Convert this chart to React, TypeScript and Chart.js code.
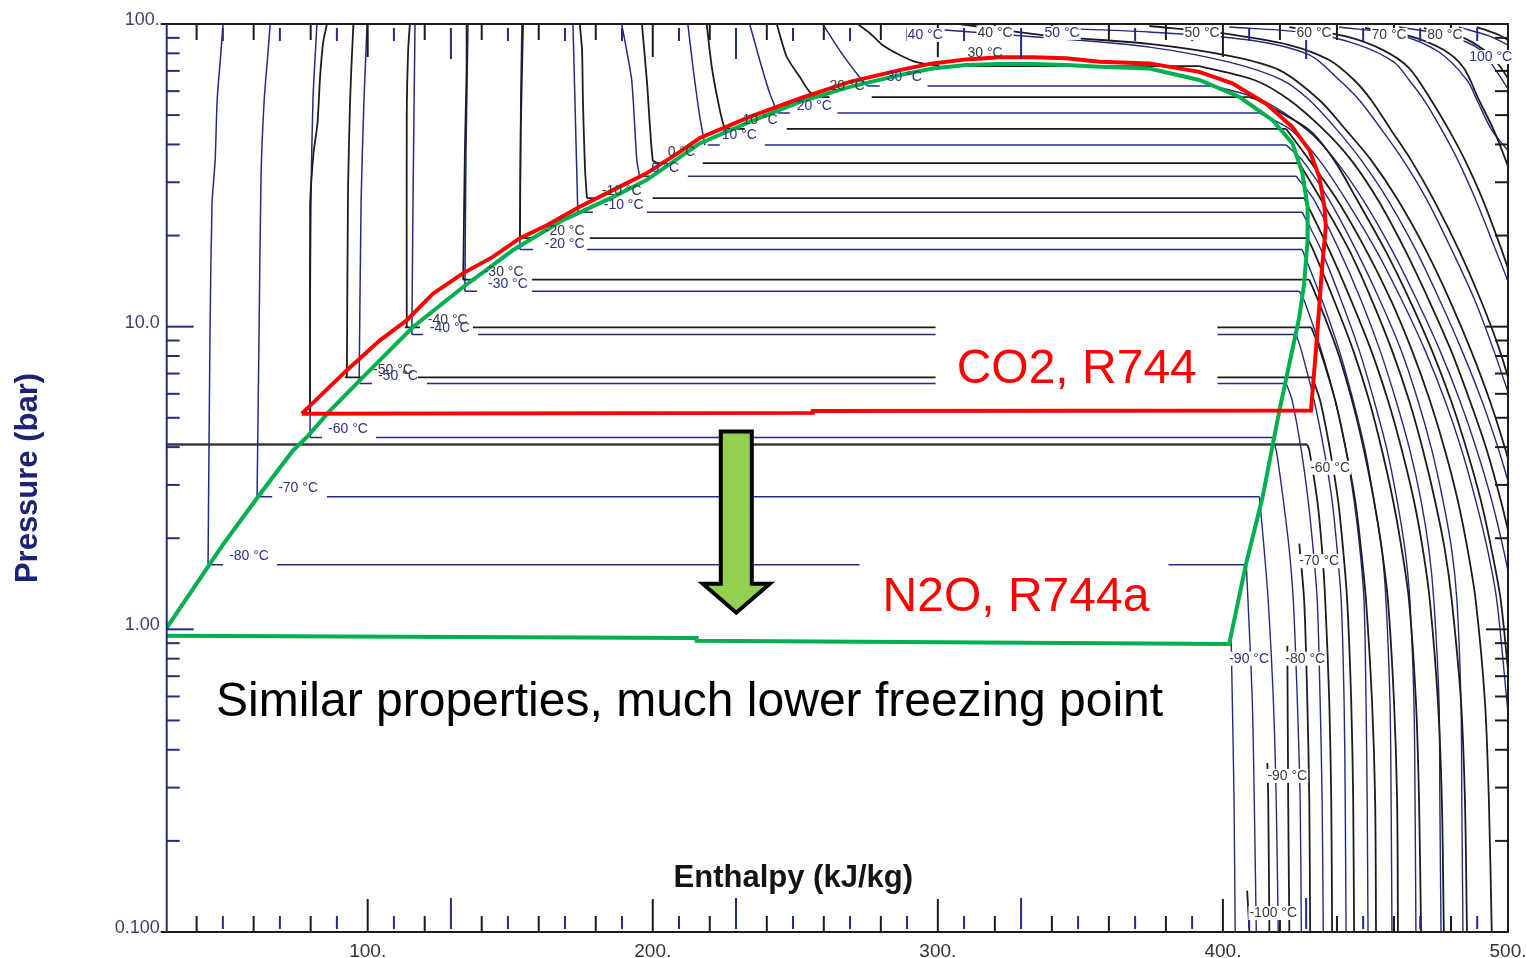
import React, { useEffect, useRef } from 'react';
import { Chart, registerables } from 'chart.js';

Chart.register(...registerables);

type Pt = [number, number];
type Seg = [number, number];

// ---------- axes ----------
const xTickValues = [100, 200, 300, 400, 500];
const xTickLabels = ['100.', '200.', '300.', '400.', '500.'];
const yTickValues = [0.1, 1, 10, 100];
const yTickLabels = ['0.100', '1.00', '10.0', '100.'];
const yMinorTicks = [0.2, 0.3, 0.4, 0.5, 0.6, 0.7, 0.8, 0.9, 2, 3, 4, 5, 6, 7, 8, 9, 20, 30, 40, 50, 60, 70, 80, 90];
const yMajorTicks = [1, 10];
const blackXTicks = [40, 60, 80, 100, 120, 140, 160, 180, 200, 220, 240, 260, 280, 300, 320, 340, 360, 380, 400, 420, 440, 460, 480];
const blackXTall = [100, 200, 300, 400];
const blueXTicks = [49.2, 69.2, 89.2, 109.2, 129.2, 149.2, 169.2, 189.2, 209.2, 229.2, 249.2, 269.2, 289.2, 309.2, 329.2, 349.2, 369.2, 389.2, 409.2, 429.2, 449.2, 469.2, 489.2];
const blueXTall = [129.2, 229.2, 329.2, 429.2];

// ---------- hand-drawn outlines (h kJ/kg, P bar) ----------
const co2Outline: Pt[] = [
  [76.9, 5.16], [92.6, 7.17], [104.3, 9.01], [113.7, 10.5], [122.9, 12.85], [133.4, 15.0], [143.9, 17.0], [153.4, 19.6],
  [162.7, 21.6], [174.4, 24.9], [186.0, 28.25], [197.8, 32.1], [209.5, 37.8], [216.5, 42.0], [234.0, 49.3], [251.6, 56.8],
  [269.1, 64.4], [286.6, 70.4], [298.1, 74.1], [310.0, 76.4], [321.6, 77.6], [333.2, 77.6], [345.0, 77.0], [356.7, 75.0],
  [374.2, 74.1], [391.7, 69.5], [403.3, 63.7], [415.1, 54.6], [424.3, 45.7], [430.3, 38.3], [433.8, 31.3], [435.6, 24.9],
  [436.1, 21.35], [434.8, 15.75], [433.1, 9.5], [430.9, 5.28], [256.1, 5.26], [256.1, 5.19], [76.9, 5.16],
];
const n2oOutline: Pt[] = [
  [27.6, 0.952], [49.4, 1.914], [62.25, 2.8], [73.8, 3.9], [78.6, 4.31], [86.8, 5.28], [98.35, 6.81], [115.9, 9.97],
  [133.4, 13.5], [150.9, 17.88], [168.5, 22.5], [186.0, 26.8], [197.8, 30.5], [216.5, 40.3], [234.0, 47.5], [251.6, 55.3],
  [269.1, 62.0], [286.6, 67.8], [298.1, 71.3], [310.0, 73.2], [321.6, 73.7], [333.2, 73.7], [345.0, 73.2], [356.7, 72.2],
  [374.2, 71.3], [391.7, 65.3], [405.7, 57.5], [417.4, 48.1], [424.4, 40.3], [427.9, 32.1], [429.7, 24.9], [429.7, 19.3],
  [428.5, 13.9], [426.8, 10.76], [419.8, 5.28], [413.9, 2.73], [408.1, 1.644], [402.2, 0.894], [215.4, 0.917], [215.4, 0.936],
  [27.6, 0.952],
];

// ---------- CO2 (black) isotherms ----------
const co2SatPressures = [6.8, 9.95, 14.3, 19.6, 26.6, 34.7, 45.0, 57.3, 72.6];
const co2SatSegments: Seg[][] = [
  [[92.0, 98.0], [117.6, 299.2], [398.1, 431.4]],
  [[113.1, 118.3], [136.9, 299.2], [398.1, 431.0]],
  [[133.4, 138.0], [157.6, 430.3]],
  [[152.7, 158.0], [177.9, 429.6]],
  [[176.9, 180.4], [200.0, 428.5]],
  [[200.7, 204.9], [217.5, 426.8]],
  [[228.8, 232.3], [247.0, 422.2]],
  [[259.2, 262.0], [276.8, 409.3]],
  [[302.4, 391.7]],
];
const co2SublimationP = 4.08;
const co2SublimationSeg: Seg = [29.5, 429.6];

const co2Liquid: Pt[][] = [
  [[79.8, 5.19], [79.8, 24.8], [81.0, 37.4], [82.4, 47.0], [83.3, 66.8], [84.4, 87.2], [85.7, 100]],
  [[92.7, 6.8], [93.1, 28.3], [93.8, 54.8], [94.4, 76.0], [95.0, 100]],
  [[113.7, 9.95], [113.7, 49.3], [114.2, 82.0], [114.8, 100]],
  [[133.5, 14.3], [134.1, 38.3], [134.7, 70.4], [134.7, 100]],
  [[153.4, 19.6], [153.7, 44.6], [154.5, 100]],
  [[176.9, 26.6], [176.2, 33.7], [175.5, 56.1], [175.2, 82.0], [174.4, 100]],
  [[201.8, 34.7], [200.0, 35.5], [198.0, 63.8], [196.2, 100]],
  [[228.8, 45.0], [225.2, 45.6], [222.8, 56.1], [220.7, 72.1], [218.9, 100]],
  [[259.2, 57.3], [255.1, 59.6], [251.6, 66.8], [247.0, 77.8], [243.5, 100]],
  [[300.6, 72.6], [292.5, 74.8], [286.6, 79.0], [280.6, 85.2], [276.1, 93.4], [271.9, 100]],
];

const co2Vapor: Pt[][] = [
  [[408.5, 0.137], [409.3, 0.1]],
  [[415.6, 0.362], [415.9, 0.271], [416.3, 0.1]],
  [[422.6, 0.882], [422.9, 0.271], [423.3, 0.1]],
  [[426.8, 1.92], [428.5, 1.24], [429.6, 0.58], [430.3, 0.271], [430.6, 0.1]],
  [[429.6, 4.08], [430.3, 3.9], [433.1, 2.66], [434.8, 1.82], [435.9, 1.24], [437.3, 0.58], [438.0, 0.271], [438.3, 0.1]],
  [[431.3, 6.8], [434.1, 5.7], [437.6, 3.9], [440.4, 2.66], [442.2, 1.82], [443.6, 1.24], [445.0, 0.58], [445.7, 0.271], [446.0, 0.1]],
  [[431.0, 9.95], [434.1, 8.35], [439.4, 5.7], [443.2, 3.9], [446.4, 2.66], [448.5, 1.82], [450.2, 1.24], [452.3, 0.58], [453.4, 0.271], [453.7, 0.1]],
  [[430.3, 14.3], [433.4, 12.2], [440.1, 8.35], [445.3, 5.7], [449.5, 3.9], [453.0, 2.66], [455.8, 1.82], [457.9, 1.24], [460.0, 0.58], [461.1, 0.271], [461.4, 0.1]],
  [[429.6, 19.6], [431.7, 17.9], [439.0, 12.2], [445.7, 8.35], [451.3, 5.7], [455.8, 3.9], [459.7, 2.66], [462.8, 1.82], [465.3, 1.24], [467.7, 0.58], [468.8, 0.271], [469.5, 0.1]],
  [[428.5, 26.6], [437.3, 17.9], [445.0, 12.2], [452.0, 8.35], [457.9, 5.7], [462.8, 3.9], [467.0, 2.66], [470.2, 1.82], [472.6, 1.24], [475.4, 0.58], [476.8, 0.271], [477.5, 0.1]],
  [[426.8, 34.7], [434.5, 26.2], [444.3, 17.9], [452.3, 12.2], [459.3, 8.35], [465.3, 5.7], [470.2, 3.9], [474.4, 2.66], [477.9, 1.82], [480.3, 1.24], [483.5, 0.58], [484.9, 0.271], [485.6, 0.1]],
  [[422.2, 45.0], [430.3, 35.5], [440.1, 26.2], [450.2, 17.9], [459.0, 12.2], [466.3, 8.35], [472.6, 5.7], [477.9, 3.9], [482.4, 2.66], [485.9, 1.82], [488.7, 1.24], [491.9, 0.58], [493.3, 0.271], [494.3, 0.1]],
  [[409.3, 57.3], [412.0, 56.1], [430.3, 44.6], [439.0, 35.5], [447.1, 26.2], [456.9, 17.9], [465.6, 12.2], [473.3, 8.35], [480.0, 5.7], [485.6, 3.9], [490.5, 2.66], [494.3, 1.82], [497.5, 1.24], [501.0, 0.58]],
  [[391.7, 72.6], [411.0, 65.3], [423.3, 56.1], [435.5, 44.6], [445.0, 35.5], [454.4, 26.2], [463.9, 17.9], [472.3, 12.2], [480.0, 8.35], [486.6, 5.7], [492.6, 3.9], [497.5, 2.66], [501.7, 1.82]],
  [[307.6, 100], [339.2, 91.3], [374.2, 85.9], [402.2, 78.4], [419.8, 70.4], [433.8, 56.1], [443.2, 44.6], [452.0, 35.5], [461.4, 26.2], [471.2, 17.9], [479.6, 12.2], [487.0, 8.35], [493.6, 5.7], [499.2, 3.9], [502.1, 3.1]],
  [[374.2, 98.5], [398.8, 93.4], [423.3, 85.2], [437.3, 76.0], [446.0, 65.3], [452.0, 56.1], [459.0, 44.6], [466.0, 35.5], [474.0, 26.2], [482.8, 17.9], [490.5, 12.2], [497.1, 8.35], [502.4, 5.7]],
  [[423.3, 97.7], [442.5, 91.3], [456.2, 82.0], [465.3, 71.5], [473.0, 56.1], [479.3, 44.6], [484.9, 35.5], [491.2, 26.2], [497.8, 17.9], [501.4, 14.2]],
  [[449.9, 97.0], [465.3, 91.3], [477.5, 82.0], [484.5, 71.5], [489.8, 56.1], [495.0, 44.6], [499.2, 35.5], [501.7, 30.5]],
  [[470.5, 97.0], [482.8, 91.3], [491.6, 82.0], [496.8, 73.2], [500.3, 65.3], [502.1, 60.5]],
  [[489.1, 97.7], [496.8, 92.0], [502.1, 85.9]],
];

// ---------- N2O (blue) isotherms ----------
const n2oSatPressures = [1.635, 2.74, 4.3, 6.49, 9.43, 13.1, 18.0, 23.9, 31.4, 39.8, 50.8, 62.4];
const n2oSatSegments: Seg[][] = [
  [[44.7, 49.3], [68.2, 272.5], [380.9, 408.2]],
  [[61.5, 66.5], [85.7, 412.8]],
  [[79.8, 84.0], [102.9, 417.3]],
  [[97.3, 101.5], [120.8, 299.2], [398.1, 422.2]],
  [[115.5, 119.4], [138.7, 299.2], [398.1, 425.7]],
  [[134.1, 138.4], [157.6, 426.8]],
  [[153.4, 158.0], [176.9, 427.8]],
  [[173.7, 179.0], [197.9, 427.8]],
  [[195.4, 199.0], [212.3, 425.7]],
  [[219.3, 223.5], [239.3, 422.2]],
  [[243.9, 248.1], [264.8, 412.8]],
  [[275.4, 279.6], [296.4, 397.0]],
];

const n2oLiquid: Pt[][] = [
  [[44.0, 1.635], [44.7, 9.72], [45.4, 25.6], [46.5, 35.5], [47.2, 56.1], [48.3, 76.0], [49.3, 100]],
  [[61.2, 2.74], [61.9, 9.72], [62.6, 31.6], [63.7, 56.1], [65.1, 82.0], [65.8, 100]],
  [[79.8, 4.3], [79.8, 9.72], [80.1, 26.2], [80.8, 56.1], [82.2, 100]],
  [[97.0, 6.49], [97.7, 26.2], [98.7, 56.1], [99.8, 100]],
  [[115.5, 9.43], [115.9, 26.2], [116.6, 100]],
  [[134.1, 13.1], [134.5, 38.3], [135.2, 100]],
  [[153.4, 18.0], [153.7, 56.1], [154.1, 100]],
  [[173.7, 23.9], [172.7, 56.1], [172.0, 100]],
  [[195.4, 31.4], [194.4, 35.5], [192.6, 65.3], [189.1, 100]],
  [[218.3, 39.8], [216.5, 49.3], [214.1, 72.1], [212.3, 100]],
  [[243.8, 50.8], [241.0, 59.1], [237.5, 76.0], [234.0, 100]],
  [[275.3, 62.4], [272.5, 66.8], [265.5, 82.0], [259.6, 100]],
];

const n2oVapor: Pt[][] = [
  [[402.9, 0.917], [403.3, 0.58], [403.9, 0.271], [404.3, 0.1]],
  [[408.2, 1.635], [408.8, 1.24], [410.3, 0.58], [411.0, 0.271], [411.7, 0.1]],
  [[412.8, 2.74], [414.5, 1.82], [415.9, 1.24], [417.7, 0.58], [418.7, 0.271], [419.4, 0.1]],
  [[417.3, 4.3], [418.7, 3.9], [421.2, 2.66], [423.3, 1.82], [424.7, 1.24], [426.1, 0.58], [427.1, 0.271], [427.5, 0.1]],
  [[422.2, 6.49], [424.3, 5.7], [427.5, 3.9], [429.9, 2.66], [431.7, 1.82], [433.1, 1.24], [434.1, 0.58], [434.8, 0.271], [435.2, 0.1]],
  [[425.7, 9.43], [427.5, 8.35], [432.0, 5.7], [435.5, 3.9], [438.3, 2.66], [440.1, 1.82], [441.5, 1.24], [442.5, 0.58], [442.9, 0.271], [443.2, 0.1]],
  [[426.8, 13.1], [428.5, 12.2], [434.5, 8.35], [439.4, 5.7], [443.2, 3.9], [446.0, 2.66], [448.1, 1.82], [449.5, 1.24], [450.2, 0.58], [450.6, 0.271], [450.9, 0.1]],
  [[427.8, 18.0], [434.8, 12.2], [440.8, 8.35], [445.7, 5.7], [449.9, 3.9], [453.0, 2.66], [455.8, 1.82], [457.2, 1.24], [458.6, 0.58], [459.0, 0.271], [459.3, 0.1]],
  [[427.8, 23.9], [434.5, 17.9], [441.5, 12.2], [447.8, 8.35], [453.0, 5.7], [457.6, 3.9], [461.1, 2.66], [463.9, 1.82], [465.6, 1.24], [467.0, 0.58], [467.4, 0.271], [467.7, 0.1]],
  [[425.7, 31.4], [432.0, 26.2], [440.8, 17.9], [448.5, 12.2], [455.1, 8.35], [460.7, 5.7], [465.6, 3.9], [469.5, 2.66], [472.3, 1.82], [474.0, 1.24], [475.8, 0.58], [476.1, 0.271], [476.5, 0.1]],
  [[422.2, 39.8], [427.8, 35.5], [437.3, 26.2], [446.7, 17.9], [455.1, 12.2], [462.5, 8.35], [468.4, 5.7], [473.3, 3.9], [477.2, 2.66], [480.3, 1.82], [482.1, 1.24], [483.5, 0.58], [483.8, 0.271], [484.2, 0.1]],
  [[412.8, 50.8], [424.0, 44.6], [433.8, 35.5], [443.2, 26.2], [453.7, 17.9], [462.8, 12.2], [470.9, 8.35], [477.9, 5.7], [483.8, 3.9], [488.7, 2.66], [492.9, 1.82], [496.1, 1.24], [499.6, 0.58], [501.7, 0.367]],
  [[397.0, 62.4], [413.5, 56.1], [429.6, 44.6], [439.4, 35.5], [449.2, 26.2], [459.3, 17.9], [468.1, 12.2], [476.1, 8.35], [483.1, 5.7], [489.1, 3.9], [494.3, 2.66], [498.5, 1.82], [502.1, 1.24]],
  [[302.4, 95.5], [339.2, 89.9], [374.2, 83.9], [402.2, 74.8], [420.8, 65.3], [430.3, 56.1], [440.1, 44.6], [448.5, 35.5], [457.9, 26.2], [467.7, 17.9], [476.1, 12.2], [483.8, 8.35], [490.8, 5.7], [496.8, 3.9], [501.0, 2.87]],
  [[339.2, 97.0], [374.2, 94.1], [409.3, 88.5], [430.3, 79.0], [440.8, 65.3], [447.8, 56.1], [455.8, 44.6], [463.2, 35.5], [471.6, 26.2], [480.3, 17.9], [488.4, 12.2], [495.0, 8.35], [501.0, 5.7]],
  [[402.2, 97.7], [430.3, 93.4], [447.8, 85.2], [460.0, 74.8], [465.3, 65.3], [470.5, 56.1], [476.8, 44.6], [482.4, 35.5], [488.7, 26.2], [495.7, 17.9], [499.9, 14.2]],
  [[440.8, 97.7], [461.8, 92.0], [475.8, 80.8], [485.6, 65.3], [489.1, 56.1], [494.3, 44.6], [499.9, 38.3]],
  [[461.8, 97.7], [479.3, 91.3], [490.5, 82.0], [495.7, 70.4], [500.3, 60.5]],
  [[482.8, 97.7], [493.3, 91.3], [502.1, 83.3]],
];

// ---------- isotherm labels ----------
const co2IsoLabels = [
  { t: '-50 °C', h: 101.9, p: 7.17 }, { t: '-40 °C', h: 121.1, p: 10.5 }, { t: '-30 °C', h: 140.7, p: 15.1 },
  { t: '-20 °C', h: 162.1, p: 20.7 }, { t: '-10 °C', h: 182.1, p: 28.0 }, { t: '0 °C', h: 205.3, p: 37.7 },
  { t: '10 °C', h: 231.5, p: 48.1 }, { t: '20 °C', h: 262.0, p: 62.4 }, { t: '30 °C', h: 310.4, p: 80.2 },
];
const n2oIsoLabels = [
  { t: '-80 °C', h: 51.4, p: 1.74 }, { t: '-70 °C', h: 68.6, p: 2.92 }, { t: '-60 °C', h: 86.1, p: 4.57 },
  { t: '-50 °C', h: 103.6, p: 6.85 }, { t: '-40 °C', h: 121.8, p: 9.88 }, { t: '-30 °C', h: 142.2, p: 13.8 },
  { t: '-20 °C', h: 162.1, p: 18.7 }, { t: '-10 °C', h: 182.8, p: 25.2 }, { t: '0 °C', h: 199.6, p: 33.4 },
  { t: '10 °C', h: 224.2, p: 42.9 }, { t: '20 °C', h: 250.5, p: 53.5 }, { t: '30 °C', h: 282.1, p: 66.8 },
];
const topIsoLabels = [
  { t: '40 °C', h: 289.4, p: 92.0, blue: true }, { t: '40 °C', h: 313.9, p: 93.4, blue: false },
  { t: '50 °C', h: 337.4, p: 93.4, blue: true }, { t: '50 °C', h: 386.5, p: 93.4, blue: false },
  { t: '60 °C', h: 425.8, p: 93.4, blue: false }, { t: '70 °C', h: 452.1, p: 92.0, blue: false },
  { t: '80 °C', h: 471.7, p: 92.0, blue: false }, { t: '100 °C', h: 486.4, p: 77.8, blue: true },
  { t: '-60 °C', h: 430.6, p: 3.42, blue: false }, { t: '-70 °C', h: 426.8, p: 1.68, blue: false },
  { t: '-80 °C', h: 421.9, p: 0.8, blue: false }, { t: '-90 °C', h: 402.2, p: 0.8, blue: true },
  { t: '-90 °C', h: 415.6, p: 0.328, blue: false }, { t: '-100 °C', h: 409.3, p: 0.1155, blue: false },
];

// ---------- annotations ----------
const co2Text = { t: 'CO2, R744', h: 306.6, p: 6.49 };
const n2oText = { t: 'N2O, R744a', h: 280.6, p: 1.152 };
const noteText = { t: 'Similar properties, much lower freezing point', h: 46.8, p: 0.518 };
const xTitle = { t: 'Enthalpy (kJ/kg)', h: 249.3, p: 0.1408 };
const yTitle = 'Pressure (bar)';
const arrowH = 229.3;
const arrowTopP = 4.505;
const arrowBaseP = 1.415;
const arrowTipP = 1.135;

const FONT = '"Liberation Sans", Arial, Helvetica, sans-serif';
const BLACK = '#1c1c1c';
const NAVY = '#232a80';

function lineDs(pts: Pt[], color: string, width: number, tension = 0) {
  return {
    data: pts.map(([x, y]) => ({ x, y })),
    borderColor: color,
    borderWidth: width,
    pointRadius: 0,
    tension,
    fill: false,
  };
}

const decorPlugin = {
  id: 'decor',
  afterDatasetsDraw(chart: any) {
    const { ctx, chartArea: a, scales } = chart;
    const X = (h: number) => scales.x.getPixelForValue(h);
    const Y = (p: number) => scales.y.getPixelForValue(p);
    const seg = (x1: number, y1: number, x2: number, y2: number) => {
      ctx.beginPath();
      ctx.moveTo(x1, y1);
      ctx.lineTo(x2, y2);
      ctx.stroke();
    };
    ctx.save();
    ctx.lineCap = 'butt';

    // frame
    ctx.lineWidth = 2;
    ctx.strokeStyle = BLACK;
    seg(a.left - 6, a.top, a.right + 1, a.top);
    seg(a.left - 6, a.bottom, a.right + 1, a.bottom);
    seg(a.right, a.top, a.right, a.bottom);
    ctx.strokeStyle = NAVY;
    seg(a.left, a.top, a.left, a.bottom);

    // y ticks (inside)
    yMinorTicks.forEach((v) => seg(a.left, Y(v), a.left + 13, Y(v)));
    yMajorTicks.forEach((v) => seg(a.left, Y(v), a.left + 27, Y(v)));
    ctx.strokeStyle = BLACK;
    yMinorTicks.forEach((v) => seg(a.right - 13, Y(v), a.right, Y(v)));
    yMajorTicks.forEach((v) => seg(a.right - 22, Y(v), a.right, Y(v)));

    // x ticks (inside, top and bottom)
    blackXTicks.forEach((v) => {
      const L = blackXTall.includes(v) ? 33 : 16;
      seg(X(v), a.bottom, X(v), a.bottom - L);
      seg(X(v), a.top, X(v), a.top + L);
    });
    ctx.strokeStyle = NAVY;
    blueXTicks.forEach((v) => {
      const L = blueXTall.includes(v) ? 31 : 13;
      seg(X(v), a.bottom - 3, X(v), a.bottom - 3 - L);
      seg(X(v), a.top + 4, X(v), a.top + 4 + L);
    });

    // isotherm labels
    ctx.font = `14px ${FONT}`;
    ctx.textBaseline = 'middle';
    ctx.textAlign = 'left';
    co2IsoLabels.forEach((l) => {
      ctx.fillStyle = '#3a3a3a';
      ctx.fillText(l.t, X(l.h), Y(l.p));
    });
    n2oIsoLabels.forEach((l) => {
      ctx.fillStyle = '#2c3286';
      ctx.fillText(l.t, X(l.h), Y(l.p));
    });
    topIsoLabels.forEach((l) => {
      const w = ctx.measureText(l.t).width;
      ctx.fillStyle = '#ffffff';
      ctx.fillRect(X(l.h) - 1, Y(l.p) - 7, w + 2, 14);
      ctx.fillStyle = l.blue ? '#2c3286' : '#3a3a3a';
      ctx.fillText(l.t, X(l.h), Y(l.p));
    });

    // arrow
    const cx = X(arrowH);
    const top = Y(arrowTopP);
    const base = Y(arrowBaseP);
    const tip = Y(arrowTipP);
    const sw = 15.5;
    const hw = 33.5;
    ctx.beginPath();
    ctx.moveTo(cx - sw, top);
    ctx.lineTo(cx + sw, top);
    ctx.lineTo(cx + sw, base);
    ctx.lineTo(cx + hw, base);
    ctx.lineTo(cx, tip);
    ctx.lineTo(cx - hw, base);
    ctx.lineTo(cx - sw, base);
    ctx.closePath();
    ctx.fillStyle = '#92d050';
    ctx.fill();
    ctx.lineWidth = 4;
    ctx.lineJoin = 'miter';
    ctx.strokeStyle = '#000000';
    ctx.stroke();

    // big annotations
    ctx.font = `48px ${FONT}`;
    ctx.textBaseline = 'alphabetic';
    ctx.textAlign = 'left';
    ctx.fillStyle = '#ff0000';
    ctx.fillText(co2Text.t, X(co2Text.h), Y(co2Text.p));
    ctx.fillText(n2oText.t, X(n2oText.h), Y(n2oText.p));
    ctx.fillStyle = '#000000';
    ctx.fillText(noteText.t, X(noteText.h), Y(noteText.p));

    // axis titles
    ctx.font = `bold 31px ${FONT}`;
    ctx.textAlign = 'center';
    ctx.fillStyle = '#141414';
    ctx.fillText(xTitle.t, X(xTitle.h), Y(xTitle.p));
    ctx.save();
    ctx.translate(a.left - 138, (a.top + a.bottom) / 2);
    ctx.rotate(-Math.PI / 2);
    ctx.textBaseline = 'middle';
    ctx.fillStyle = '#1b2378';
    ctx.fillText(yTitle, 0, 0);
    ctx.restore();

    ctx.restore();
  },
};

export default function App() {
  const ref = useRef<HTMLCanvasElement>(null);

  useEffect(() => {
    const canvas = ref.current;
    if (!canvas) return;
    const datasets: any[] = [];
    datasets.push(lineDs(co2Outline, '#ff0000', 4));
    datasets.push(lineDs(n2oOutline, '#00b050', 4));
    co2SatPressures.forEach((p, i) => {
      co2SatSegments[i].forEach(([a, b]) => datasets.push(lineDs([[a, p], [b, p]], BLACK, 1.8)));
    });
    datasets.push(lineDs([[co2SublimationSeg[0], co2SublimationP], [co2SublimationSeg[1], co2SublimationP]], '#3a3a3a', 2.4));
    n2oSatPressures.forEach((p, i) => {
      n2oSatSegments[i].forEach(([a, b]) => datasets.push(lineDs([[a, p], [b, p]], NAVY, 1.5)));
    });
    co2Liquid.forEach((pts) => datasets.push(lineDs(pts, BLACK, 1.8, 0.2)));
    n2oLiquid.forEach((pts) => datasets.push(lineDs(pts, NAVY, 1.5, 0.2)));
    co2Vapor.forEach((pts) => datasets.push(lineDs(pts, BLACK, 1.8, 0.3)));
    n2oVapor.forEach((pts) => datasets.push(lineDs(pts, NAVY, 1.4, 0.3)));

    const chart = new Chart(canvas, {
      type: 'line',
      data: { datasets },
      options: {
        animation: false,
        responsive: false,
        devicePixelRatio: 1,
        events: [],
        layout: { padding: { left: 0, right: 18, top: 24, bottom: 0 } },
        plugins: { legend: { display: false }, tooltip: { enabled: false } },
        scales: {
          x: {
            type: 'linear',
            min: 29.5,
            max: 500,
            grid: { display: false, drawTicks: false },
            border: { display: false },
            afterBuildTicks: (s: any) => {
              s.ticks = xTickValues.map((v) => ({ value: v }));
            },
            afterFit: (s: any) => {
              s.height = 26;
              s.paddingLeft = 0;
              s.paddingRight = 0;
            },
            ticks: {
              autoSkip: false,
              maxRotation: 0,
              padding: 8,
              color: '#333333',
              font: { family: FONT, size: 19 },
              callback: (v: any) => {
                const i = xTickValues.indexOf(Number(v));
                return i >= 0 ? xTickLabels[i] : '';
              },
            },
          },
          y: {
            type: 'logarithmic',
            min: 0.1,
            max: 100,
            grid: { display: false, drawTicks: false },
            border: { display: false },
            afterBuildTicks: (s: any) => {
              s.ticks = yTickValues.map((v) => ({ value: v }));
            },
            afterFit: (s: any) => {
              s.width = 166.7;
              s.paddingTop = 0;
              s.paddingBottom = 0;
            },
            ticks: {
              autoSkip: false,
              padding: 7,
              labelOffset: -4,
              color: '#3a3f6e',
              font: { family: FONT, size: 18 },
              callback: (v: any) => {
                const i = yTickValues.findIndex((t) => Math.abs(t - Number(v)) < 1e-9);
                return i >= 0 ? yTickLabels[i] : '';
              },
            },
          },
        },
      } as any,
      plugins: [decorPlugin],
    });
    return () => chart.destroy();
  }, []);

  return (
    <div style={{ position: 'absolute', left: 0, top: 0, width: 1526, height: 958, background: '#ffffff' }}>
      <canvas ref={ref} width={1526} height={958} style={{ width: 1526, height: 958, display: 'block' }} />
    </div>
  );
}
